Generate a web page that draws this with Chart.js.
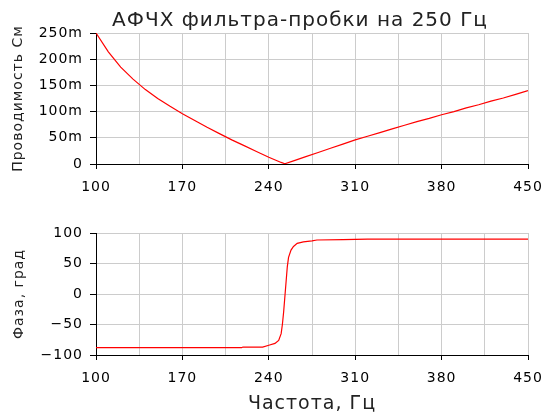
<!DOCTYPE html>
<html lang="ru">
<head>
<meta charset="utf-8">
<title>АФЧХ фильтра-пробки на 250 Гц</title>
<script src="https://cdn.jsdelivr.net/npm/chart.js@4"></script>
<style>
    html, body { margin: 0; padding: 0; background: #fff; }
    .grafico { position: absolute; left: 0; }
</style>
</head>
<body>
<canvas id="graficoModulo" class="grafico" width="543" height="200" style="top:0"></canvas>
<canvas id="graficoFase" class="grafico" width="543" height="214" style="top:200px"></canvas>
<script>
// Проводимость (мСм) по частоте
const frecModulo = [100, 110, 120, 130, 140, 150, 160, 170, 180, 190, 200, 210, 220, 230, 240, 250, 253,
    260, 270, 280, 290, 300, 310, 320, 330, 340, 350, 360, 370, 380, 390, 400, 410, 420, 430, 440, 450];
const conductancia = [250, 214, 185, 162, 142, 125, 110, 96, 83, 70, 58, 46, 35, 24, 13, 3, 0.5,
    6, 14, 22, 30, 38, 46, 53, 60, 67, 74, 81, 87, 94, 100, 107, 113, 120, 126, 133, 140];

// Фаза (град) по частоте
const frecFase = [100, 150, 200, 218, 219, 235, 240, 245, 248, 250, 251, 252, 253, 254, 255, 256, 258,
    260, 263, 268, 275, 279, 300, 320, 450];
const fase = [-88, -88, -88, -88, -87, -87, -84, -81, -76, -65, -50, -30, -5, 20, 45, 60, 72,
    78, 83, 85.5, 87, 88.5, 89, 90, 90];

const ticksFrecuencia = [100, 170, 240, 310, 380, 450];
const ticksFase = [-100, -50, 0, 50, 100];

Chart.defaults.font.family = "'DejaVu Sans', sans-serif";
Chart.defaults.color = '#000';

const colorGrilla = '#cccccc';
const transparente = 'rgba(0,0,0,0)';

const aPuntos = (xs, ys) => xs.map((x, i) => ({ x: x, y: ys[i] }));

// letras un poco separadas, como en la imagen original
const espaciado = {
    id: 'espaciado',
    beforeDraw(chart) { chart.ctx.letterSpacing = '1px'; },
    afterDraw(chart) { chart.ctx.letterSpacing = '0px'; }
};

const ejeFrecuencia = (titulo, alto) => ({
    type: 'linear',
    min: 100,
    max: 450,
    afterFit: (scale) => {
        scale.height = alto;
        scale.paddingLeft = 0;
        scale.paddingRight = 0;
    },
    border: { color: '#000', width: 1 },
    grid: {
        color: colorGrilla,
        tickLength: 5,
        tickColor: (ctx) => ticksFrecuencia.includes(ctx.tick && ctx.tick.value) ? '#000' : transparente
    },
    ticks: {
        stepSize: 35,
        autoSkip: false,
        maxRotation: 0,
        padding: 10,
        font: { size: 14 },
        callback: (v) => ticksFrecuencia.includes(v) ? v : ''
    },
    title: {
        display: !!titulo,
        text: titulo,
        color: '#222',
        font: { size: 19, lineHeight: 1.0 },
        padding: { top: 0, bottom: 0 }
    }
});

const tituloPlugin = {
    id: 'tituloFijo',
    afterDraw(chart) {
        const ctx = chart.ctx;
        ctx.save();
        ctx.font = "20px 'DejaVu Sans', sans-serif";
        ctx.fillStyle = '#222';
        ctx.textAlign = 'center';
        ctx.textBaseline = 'middle';
        ctx.fillText('АФЧХ фильтра-пробки на 250 Гц', 300, 21);
        ctx.restore();
    }
};

new Chart(document.getElementById('graficoModulo'), {
    type: 'line',
    data: {
        datasets: [{
            label: 'Проводимость',
            data: aPuntos(frecModulo, conductancia),
            borderColor: '#ff0000',
            borderWidth: 1.2,
            pointRadius: 0,
            tension: 0
        }]
    },
    options: {
        responsive: false,
        animation: false,
        devicePixelRatio: 1,
        layout: { padding: { top: 33, right: 15, left: 0, bottom: 0 } },
        plugins: { legend: { display: false }, tooltip: { enabled: false } },
        scales: {
            x: ejeFrecuencia('', 36),
            y: {
                min: 0,
                max: 250,
                afterFit: (scale) => { scale.width = 96; },
                border: { color: '#000', width: 1 },
                grid: { color: colorGrilla, tickLength: 6, tickColor: '#000' },
                ticks: {
                    stepSize: 50,
                    padding: 7,
                    font: { size: 14 },
                    callback: (v) => v === 0 ? '0' : v + 'm'
                },
                title: {
                    display: true,
                    text: 'Проводимость См',
                    color: '#222',
                    font: { size: 14, lineHeight: 1.2 },
                    padding: { top: 10, bottom: 0 }
                }
            }
        }
    },
    plugins: [tituloPlugin, espaciado]
});

new Chart(document.getElementById('graficoFase'), {
    type: 'line',
    data: {
        datasets: [{
            label: 'Фаза',
            data: aPuntos(frecFase, fase),
            borderColor: '#ff0000',
            borderWidth: 1.2,
            pointRadius: 0,
            tension: 0
        }]
    },
    options: {
        responsive: false,
        animation: false,
        devicePixelRatio: 1,
        layout: { padding: { top: 33, right: 15, left: 0, bottom: 0 } },
        plugins: { legend: { display: false }, tooltip: { enabled: false } },
        scales: {
            x: ejeFrecuencia('Частота, Гц', 59),
            y: {
                min: -100,
                max: 100,
                afterFit: (scale) => { scale.width = 96; },
                border: { color: '#000', width: 1 },
                grid: {
                    color: colorGrilla,
                    tickLength: 6,
                    tickColor: (ctx) => ticksFase.includes(ctx.tick && ctx.tick.value) ? '#000' : transparente
                },
                ticks: {
                    stepSize: 25,
                    padding: 7,
                    font: { size: 14 },
                    callback: (v) => ticksFase.includes(v) ? String(v).replace('-', '\u2212') : ''
                },
                title: {
                    display: true,
                    text: 'Фаза, град',
                    color: '#222',
                    font: { size: 14, lineHeight: 1.2 },
                    padding: { top: 11, bottom: 0 }
                }
            }
        }
    },
    plugins: [espaciado]
});
</script>
</body>
</html>
